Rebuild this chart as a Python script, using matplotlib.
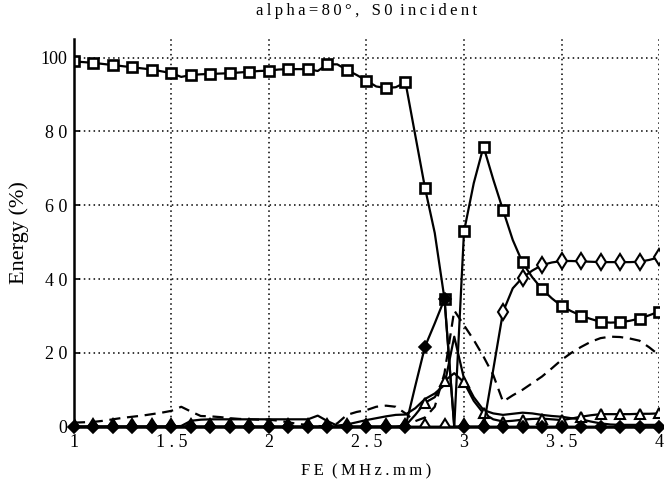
import numpy as np
from matplotlib import pyplot as plt

# FE grid (MHz.mm), curves sampled every 0.05, markers every 0.1
fe = np.round(np.arange(1.0, 4.0001, 0.05), 2)

# S0 reflected (squares)
sq = [99.0, 98.8, 98.6, 98.3, 98.0, 97.7, 97.4, 97.1, 96.8, 96.3,
      95.8, 94.8, 95.3, 95.5, 95.6, 95.7, 95.8, 96.0, 96.2, 96.4,
      96.5, 96.8, 96.9, 96.9, 96.9, 96.4, 98.2, 98.2, 96.7, 95.3,
      93.8, 92.2, 91.8, 92.0, 93.3, 79.0, 64.7, 52.5, 34.6, 0.0,
      52.9, 66.0, 75.9, 67.0, 58.7, 50.6, 44.5, 40.5, 37.3, 34.8,
      32.7, 31.3, 30.1, 29.2, 28.4, 28.2, 28.3, 28.7, 29.3, 30.2,
      31.2]

# open diamonds
dia = [0.0] * 43 + [15.5, 31.1, 37.5, 40.4, 42.3, 43.8, 44.5,
                    44.9, 44.9, 44.8, 44.7, 44.6, 44.6, 44.6, 44.6, 44.7, 45.2,
                    45.9]

# open triangles
tri = [0.0] * 34 + [0.3, 3.2, 6.5, 8.0, 12.4, 14.5,
                    12.0, 7.0, 3.6, 2.0, 1.4, 1.6, 1.9, 2.1, 2.2, 2.0,
                    1.8, 2.2, 2.7, 3.1, 3.4, 3.4, 3.4, 3.4, 3.5, 3.5,
                    3.6]

# dashed curve
dash = [1.1, 1.2, 1.3, 1.6, 2.0, 2.4, 2.7, 3.0, 3.4, 3.8,
        4.3, 5.4, 4.1, 2.9, 2.8, 2.6, 2.3, 2.1, 2.0, 1.9,
        1.9, 1.6, 1.2, 0.7, 0.5, 0.2, 0.0, 0.9, 3.2, 4.0,
        4.5, 5.4, 5.7, 5.4, 3.6, 1.5, 2.5, 5.4, 14.5, 31.5,
        27.5, 23.5, 19.0, 14.0, 6.8, 8.5, 10.0, 11.8, 13.6, 15.8,
        18.1, 20.0, 21.6, 23.0, 24.0, 24.4, 24.3, 23.9, 23.3, 21.5,
        19.4]

# plain solid curve
sol = [0.0] * 11 + [0.2, 1.6, 1.9, 2.0, 2.0, 2.0, 2.0, 2.0, 2.0,
                    2.0, 2.0, 2.0, 2.0, 2.0, 3.0, 1.5, 0.3, 0.6, 1.2,
                    1.8, 2.3, 2.8, 3.2, 3.3, 5.0, 7.5, 9.0, 11.3, 24.4,
                    13.0, 8.0, 4.5, 3.6, 3.2, 3.5, 3.8, 3.6, 3.2, 2.9,
                    2.7, 2.3, 2.0, 1.4, 0.9, 0.6, 0.5, 0.5, 0.5, 0.5,
                    0.5]

# filled markers
plus = [0.0] * 34 + [0.0, 11.0, 21.7, 28.0, 34.6, 0.0] + [0.0] * 21

xticks = [1, 1.5, 2, 2.5, 3, 3.5, 4]
xticklabels = ['1', '1 . 5', '2', '2 . 5', '3', '3 . 5', '4']
yticks = [0, 20, 40, 60, 80, 100]
yticklabels = ['0', '2 0', '4 0', '6 0', '8 0', '100']

plt.rcParams['font.family'] = ['Liberation Serif', 'DejaVu Serif']

fig = plt.figure(figsize=(6.64, 4.79), dpi=100)
ax = fig.add_axes([0.1114, 0.1092, 0.8811, 0.8104])

lw = 1.6
ax.plot(fe, dash, color='k', lw=lw, linestyle=(0, (5, 3)))
ax.plot(fe, sol, color='k', lw=lw)
ax.plot(fe, tri, color='k', lw=lw, marker='^', markevery=2, ms=7.5,
        mfc='white', mec='k', mew=1.5)
ax.plot(fe, dia, color='k', lw=lw, marker='d', markevery=2, ms=8.5,
        mfc='white', mec='k', mew=1.5)
ax.plot(fe, sq, color='k', lw=lw, marker='s', markevery=2, ms=7.5,
        mfc='white', mec='k', mew=1.9)
ax.plot(fe, plus, color='k', lw=lw, marker='D', markevery=2, ms=6.5,
        mfc='k', mec='k', mew=1.2, clip_on=False)

ax.set_xlim(1, 4)
ax.set_ylim(0, 105.2)
ax.set_xticks(xticks)
ax.set_xticklabels(xticklabels)
ax.set_yticks(yticks)
ax.set_yticklabels(yticklabels)
ax.tick_params(direction='in', length=4, width=1.2, labelsize=13, pad=5)
ax.grid(True, color='k', linestyle=(0, (1, 2.2)), linewidth=1.1)

ax.spines['top'].set_visible(False)
ax.spines['right'].set_visible(False)
ax.spines['left'].set_linewidth(1.8)
ax.spines['bottom'].set_linewidth(1.8)

# title and x label have wide letter spacing
ax.set_title('a\u2009l\u2009p\u2009h\u2009a\u2009=\u20098\u20090\u2009°\u2009,   '
             'S\u20090\u2009 i\u2009n\u2009c\u2009i\u2009d\u2009e\u2009n\u2009t',
             fontsize=12, pad=17)
ax.set_xlabel('F\u2009E  (\u2009M\u2009H\u2009z\u2009.\u2009m\u2009m\u2009)',
              fontsize=12, labelpad=9)
ax.set_ylabel('Energy (%)', fontsize=16, labelpad=8)

fig.savefig('out.png', dpi=100)
